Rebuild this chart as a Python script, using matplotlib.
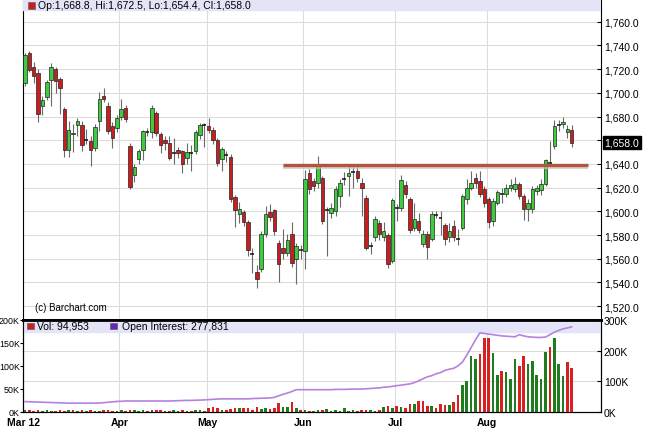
import numpy as np
import matplotlib
matplotlib.use("Agg")
import matplotlib.pyplot as plt
from matplotlib.patches import Rectangle
from matplotlib.ticker import FuncFormatter

plt.rcParams['font.family'] = ['Liberation Sans', 'DejaVu Sans']

# daily OHLC, Mar 1 - Aug 28 2012 (trading days only)
opn = [
    # Mar
    1708, 1733.6, 1722, 1717, 1688.7, 1696.6, 1710.6, 1720, 1711.7, 1686.7, 1651.6,
    1665.5, 1672.5, 1673, 1661, 1659, 1653.6, 1676.6, 1697.7, 1689, 1672.4, 1670.5,
    # Apr
    1679.7, 1687.3, 1655, 1631, 1644.4, 1652, 1666.5, 1667, 1683, 1665,
    1660, 1658, 1649, 1651.6, 1650.8, 1645.3, 1649, 1651, 1664.8, 1672.3,
    # May
    1672.4, 1669, 1660, 1643.8, 1648, 1646, 1612, 1597.5, 1599.4, 1591, 1563.3,
    1548.4, 1551, 1581, 1599.4, 1600.8, 1573.6, 1569.4, 1564.6, 1581, 1559.6, 1567.5,
    # Jun
    1566.6, 1632.6, 1625.5, 1624, 1627.8, 1600.5, 1599, 1600.3, 1613, 1626.5, 1629.8,
    1633.3, 1634, 1624, 1611.5, 1570.3, 1578, 1590.5, 1578, 1580, 1558,
    # Jul
    1602.5, 1603, 1622, 1610.7, 1586.3, 1591.8, 1572.8, 1580.6, 1577, 1597, 1595,
    1588.2, 1578, 1587.6, 1577.5, 1586.3, 1610, 1620, 1628.4, 1625.5, 1619,
    # Aug
    1610, 1591.8, 1607.3, 1615.3, 1615, 1620, 1618.6, 1622.7, 1613, 1601.7,
    1601.7, 1617, 1618, 1623.3, 1641.5, 1655, 1673.3, 1673.3, 1667, 1668.8,
]
high = [
    1734, 1735, 1726, 1720, 1697, 1711, 1725, 1722, 1713, 1688, 1676,
    1674, 1679, 1676.6, 1669.6, 1664, 1674, 1701, 1704, 1692, 1675, 1681,
    1695, 1690, 1658, 1640, 1653, 1669, 1670, 1690, 1685, 1667,
    1664, 1664, 1662, 1654, 1652, 1658, 1656, 1669, 1674.7, 1674.7,
    1679, 1671, 1662, 1654, 1651, 1648, 1614, 1608, 1601, 1593, 1569,
    1555, 1583, 1604.5, 1606, 1602, 1576, 1585, 1581, 1591, 1573, 1572,
    1635, 1636, 1628, 1646.6, 1630, 1604, 1607, 1621, 1627, 1633, 1638.7,
    1638.7, 1638.7, 1628, 1614, 1574, 1596, 1593, 1591, 1582, 1611,
    1606, 1630.3, 1625.5, 1612, 1607, 1599, 1584, 1583, 1600.5, 1600, 1600.5,
    1590, 1590, 1593, 1585, 1615, 1627, 1634, 1632, 1634, 1621,
    1612, 1611, 1618, 1620, 1623, 1627, 1629, 1625, 1615, 1610,
    1621, 1622, 1627, 1644.4, 1659, 1677.5, 1677.5, 1679.7, 1673, 1672.5,
]
low = [
    1706, 1718, 1708.6, 1675, 1681.7, 1694, 1688.7, 1700, 1682, 1645.5, 1646,
    1650, 1664, 1651, 1657, 1638, 1651, 1667.6, 1692, 1665, 1653.6, 1667,
    1677, 1675, 1619, 1625, 1640, 1643, 1664, 1662, 1664, 1649.6,
    1652, 1643.6, 1640, 1645, 1632, 1640, 1634, 1648, 1661, 1654,
    1666, 1657, 1638, 1634, 1642, 1608, 1586.5, 1590, 1588, 1562, 1548,
    1535.7, 1549, 1578, 1592, 1580, 1540.5, 1560, 1562, 1553, 1538.5, 1560,
    1551, 1615, 1617, 1620, 1589, 1562.4, 1594, 1596, 1604, 1622, 1613,
    1620, 1625, 1596, 1567, 1563.8, 1575, 1576, 1575, 1552.6, 1556,
    1592, 1600, 1611, 1582, 1583, 1582, 1570, 1559.6, 1575, 1594, 1580,
    1572, 1574, 1575, 1572, 1584, 1606, 1618, 1620, 1612, 1604,
    1586.3, 1588, 1605, 1607, 1612, 1617, 1616, 1610, 1592.7, 1592,
    1599, 1614, 1614, 1621, 1638, 1653, 1668, 1670, 1662, 1654.4,
]
close = [
    1732, 1719.6, 1714.6, 1682.5, 1694.3, 1709, 1721.9, 1709.8, 1704, 1652, 1669,
    1666.5, 1676.6, 1656, 1660.2, 1652, 1671.3, 1695, 1694.4, 1667.6, 1662, 1679,
    1686.5, 1678.3, 1620.5, 1637, 1650.8, 1667.6, 1667, 1687.6, 1666, 1656.4,
    1658, 1645, 1649.4, 1649.4, 1639.6, 1650, 1649.4, 1667, 1672.5, 1672.7,
    1668.5, 1660, 1641, 1652.2, 1647.5, 1610.7, 1601, 1602, 1591, 1567.4, 1563.8,
    1542.7, 1581, 1598, 1595.6, 1583, 1555.4, 1564.6, 1575.8, 1556, 1570.7, 1567,
    1627, 1618.5, 1621.3, 1638, 1591.8, 1601, 1603, 1618.5, 1624, 1627, 1632.6,
    1633, 1628.4, 1620, 1569.4, 1570.8, 1593.3, 1580.6, 1583.4, 1555.4, 1609.5,
    1603, 1626.4, 1614.3, 1584, 1593.3, 1584.2, 1580.6, 1570.3, 1597.5, 1596.5, 1594.7,
    1576.4, 1583.4, 1578, 1577, 1613, 1620, 1623.6, 1624, 1615, 1607.3,
    1591, 1608.7, 1616, 1615, 1620, 1622, 1623.3, 1613, 1602.3, 1607.3,
    1619, 1620, 1622.7, 1643, 1641, 1672.4, 1673, 1675.2, 1669.6, 1658,
]
# volume and open interest, thousands of contracts
vol_k = [
    3, 3, 2, 3, 2, 3, 2, 2, 3, 2, 4, 3, 2, 3, 2, 3, 2, 2, 3, 3, 2, 2,
    3, 2, 4, 3, 2, 3, 2, 4, 3, 3, 2, 2, 3, 2, 3, 2, 2, 3, 3, 2,
    7, 10, 7, 3, 3, 5, 7, 7, 9, 7, 4, 11, 6, 7, 6, 7, 20, 10, 10, 21, 8, 4,
    3, 2, 2, 3, 3, 6, 2, 3, 2, 7, 2, 3, 2, 3, 4, 3, 2, 3, 10, 12, 7,
    12, 10, 7, 16, 16, 24, 24, 13, 12, 8, 16, 15, 15, 21, 36, 59, 67, 121, 115, 126, 160,
    161, 128, 81, 89, 87, 71, 115, 99, 121, 104, 111, 79, 71, 130, 141, 161, 104, 78, 108, 94.953,
]
oi_k = [
    33, 32.5, 32, 31.5, 31, 30.5, 30, 29.5, 29, 28.5, 28, 28, 28, 28, 28, 28, 28, 28.5, 29.5, 31, 32, 33.5,
    34, 35, 35, 35, 35, 35, 35, 35, 35, 35, 35, 35, 35.5, 36, 36.5, 37, 37, 37.5, 38, 38.5,
    39.5, 40.5, 41.5, 42, 42, 42, 42, 42, 42, 42, 43, 43.5, 44, 44.5, 45, 47, 52, 57, 61, 66, 72, 72,
    72, 72, 72, 72, 72, 72, 72, 73, 73, 73, 73.5, 74, 74, 74, 75, 76, 77, 78, 80, 81, 83,
    85, 87, 89, 91, 95, 101, 108, 114, 118, 124, 128, 135, 139, 142, 150, 162, 185, 210, 235, 258, 256,
    254, 252, 250, 248, 247, 246, 245, 252, 248, 245, 244, 243, 243, 244, 252, 260, 266, 271, 274, 277.831,
]
month_labels = ['Mar 12', 'Apr', 'May', 'Jun', 'Jul', 'Aug']
month_start = [0, 22, 42, 64, 85, 106]
resist_level = 1639.5
resist_from, resist_to = 59, 128.7

opn, high, low, close = map(np.array, (opn, high, low, close))
vol = np.array(vol_k) * 1000
oi = np.array(oi_k) * 1000
n = len(close)
idx = np.arange(n)

W, H = 645, 431
def fx(p): return p / W
def fy(p): return 1 - p / H

fig = plt.figure(figsize=(W / 100, H / 100), dpi=100)
ax = fig.add_axes([fx(23), fy(321), fx(601) - fx(23), fy(0) - fy(321)])
axv = fig.add_axes([fx(23), fy(412.7), fx(601) - fx(23), fy(321) - fy(412.7)])
axo = axv.twinx()

step = 4.374
xlim = ((23 - 25) / step, (601 - 25) / step)
grid_c = '#dcdcdc'

# ---- price panel
up = close >= opn
doji = np.abs(close - opn) < 0.8
ax.vlines(idx, low, high, color='#6a6a6a', lw=0.8, zorder=2)
body = ~doji
ax.bar(idx[body], np.abs(close - opn)[body], bottom=np.minimum(opn, close)[body], width=0.8,
       color=np.where(up, '#3dcc3d', '#c91e1e')[body], edgecolor='#222222', linewidth=0.5, zorder=3)
ax.hlines(close[doji], idx[doji] - 0.45, idx[doji] + 0.45, color='#111111', lw=1.1, zorder=3)

ax.plot([resist_from, resist_to], [resist_level - 2.3] * 2, color='#c4c4c4', lw=3, alpha=0.7,
        solid_capstyle='butt', zorder=4)
ax.plot([resist_from, resist_to], [resist_level] * 2, color='#b5543c', lw=2.4,
        solid_capstyle='butt', zorder=5)

ax.set_xlim(*xlim)
ax.set_ylim(1508.3, 1779.2)
ax.set_yticks(np.arange(1520, 1761, 20))
ax.yaxis.set_major_formatter(FuncFormatter(lambda v, p: f'{v:,.1f}'))
ax.yaxis.tick_right()
ax.tick_params(axis='y', direction='in', length=3, labelsize=7.5, pad=2)
ax.set_xticks([])
ax.grid(axis='y', color=grid_c, lw=0.8, zorder=0)
for m in month_start:
    ax.axvline(m - 0.4, color=grid_c, lw=0.8, zorder=0)
for s in ('top', 'bottom'):
    ax.spines[s].set_visible(False)

ax.add_patch(Rectangle((0, 1 - 11 / 321), 1, 11 / 321, transform=ax.transAxes,
                       color='#e4e4f8', zorder=6))
ax.add_patch(Rectangle((5 / 578, 1 - 9.5 / 321), 6.5 / 578, 6.5 / 321, transform=ax.transAxes,
                       facecolor='#c91e1e', edgecolor='#555555', lw=0.4, zorder=7))
ax.text(15 / 578, 1 - 6 / 321,
        f'Op:{opn[-1]:,.1f}, Hi:{high[-1]:,.1f}, Lo:{low[-1]:,.1f}, Cl:{close[-1]:,.1f}',
        transform=ax.transAxes, fontsize=7.5, va='center', ha='left', zorder=8)
ax.text(12 / 578, 13 / 321, '(c) Barchart.com', transform=ax.transAxes, fontsize=7,
        va='center', ha='left')
ax.text(1.006, close[-1], f'{close[-1]:,.1f}', transform=ax.get_yaxis_transform(),
        color='white', fontsize=7.5, va='center', ha='left',
        bbox=dict(boxstyle='square,pad=0.15', facecolor='black', edgecolor='black'))

# ---- volume / open interest panel
vup = np.r_[up[0], close[1:] >= close[:-1]]
axv.bar(idx, vol, width=0.6, color=np.where(vup, '#1e7b1e', '#d82020'), zorder=3)
axv.set_xlim(*xlim)
axv.set_ylim(0, 200000)
axv.set_yticks(np.arange(0, 200001, 50000))
axv.yaxis.set_major_formatter(FuncFormatter(lambda v, p: f'{v / 1000:.0f}K'))
axv.tick_params(axis='y', direction='out', length=2, labelsize=6.4, pad=0.3)
axv.set_xticks(np.array(month_start) - 0.4)
axv.set_xticklabels(month_labels, fontweight='bold', fontsize=7.5)
axv.tick_params(axis='x', length=0, pad=4)
for m in month_start:
    axv.axvline(m - 0.4, color=grid_c, lw=0.8, zorder=0)
for t in (1 / 3, 2 / 3):
    axv.plot([0, 1], [t, t], transform=axv.transAxes, color=grid_c, lw=0.8, zorder=0)
axv.spines['top'].set_linewidth(2)

axv.add_patch(Rectangle((0, 1 - 12 / 92), 1, 12 / 92, transform=axv.transAxes,
                        color='#e4e4f8', zorder=5))
axv.add_patch(Rectangle((4 / 578, 1 - 9.5 / 92), 6.5 / 578, 6.5 / 92, transform=axv.transAxes,
                        facecolor='#c91e1e', edgecolor='#555555', lw=0.4, zorder=6))
axv.text(14 / 578, 1 - 6 / 92, f'Vol: {vol[-1]:,.0f}', transform=axv.transAxes,
         fontsize=7.5, va='center', ha='left', zorder=7)
axv.add_patch(Rectangle((87 / 578, 1 - 9.5 / 92), 6.5 / 578, 6.5 / 92, transform=axv.transAxes,
                        facecolor='#6a22b8', edgecolor='#555555', lw=0.4, zorder=6))
axv.text(99 / 578, 1 - 6 / 92, f'Open Interest: {oi[-1]:,.0f}', transform=axv.transAxes,
         fontsize=7.5, va='center', ha='left', zorder=7)

axo.plot(idx, oi, color='#b682de', lw=1.2, zorder=4)
axo.set_ylim(0, 300000)
axo.set_yticks(np.arange(0, 300001, 100000))
axo.yaxis.set_major_formatter(FuncFormatter(lambda v, p: f'{v / 1000:.0f}K'))
axo.tick_params(axis='y', direction='in', length=3, labelsize=7.5, pad=2)
axo.spines['top'].set_linewidth(2)

fig.savefig('out.png', dpi=100)
